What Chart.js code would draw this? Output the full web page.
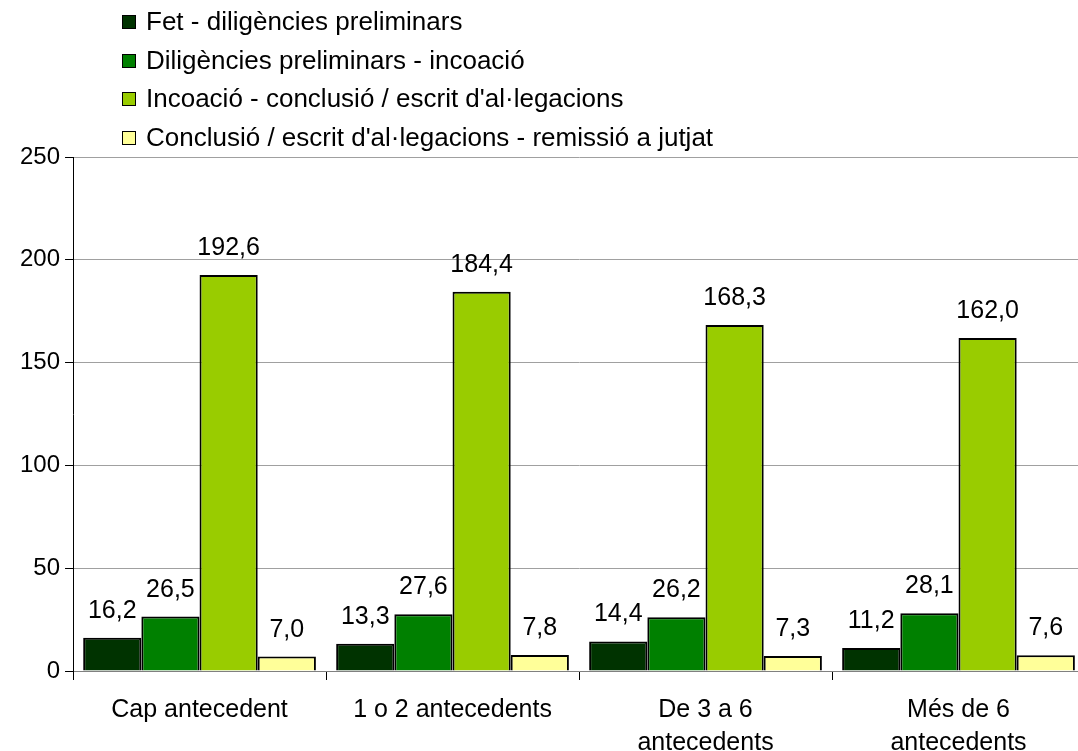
<!DOCTYPE html>
<html>
<head>
<meta charset="utf-8">
<script src="https://cdn.jsdelivr.net/npm/chart.js@4/dist/chart.umd.min.js"></script>
<style>
  html, body { margin: 0; padding: 0; background: #fff; overflow: hidden; }
  #wrap { position: relative; width: 1078px; height: 751px; overflow: hidden; }
  #legend { position: absolute; left: 122px; top: 2px; font: 26px "Liberation Sans", Arial, sans-serif; color: #000; }
  #legend div { height: 38.7px; line-height: 38.7px; white-space: nowrap; }
  #legend span.box { display: inline-block; width: 12px; height: 12px; border: 1px solid #000; margin-right: 10px; vertical-align: 1px; }
</style>
</head>
<body>
<div id="wrap">
  <canvas id="chart" width="1085" height="774"></canvas>
  <div id="legend"></div>
</div>
<script>
const categories = ['Cap antecedent', '1 o 2 antecedents', ['De 3 a 6', 'antecedents'], ['Més de 6', 'antecedents']];
const seriesNames = [
    'Fet - diligències preliminars',
    'Diligències preliminars - incoació',
    "Incoació - conclusió / escrit d'al·legacions",
    "Conclusió / escrit d'al·legacions - remissió a jutjat",
];
const fetDiligencies = [16.2, 13.3, 14.4, 11.2];
const diligenciesIncoacio = [26.5, 27.6, 26.2, 28.1];
const incoacioConclusio = [192.6, 184.4, 168.3, 162.0];
const conclusioRemissio = [7.0, 7.8, 7.3, 7.6];
const yTicks = [0, 50, 100, 150, 200, 250];

const colors = ['#003300', '#008000', '#99CC00', '#FFFF99'];
const seriesData = [fetDiligencies, diligenciesIncoacio, incoacioConclusio, conclusioRemissio];

const FONT = '"Liberation Sans", Arial, sans-serif';

const valueLabels = {
    id: 'valueLabels',
    afterDatasetsDraw(chart) {
        const ctx = chart.ctx;
        ctx.save();
        ctx.font = '25px ' + FONT;
        ctx.fillStyle = '#000';
        ctx.textAlign = 'center';
        ctx.textBaseline = 'alphabetic';
        chart.data.datasets.forEach((ds, i) => {
            chart.getDatasetMeta(i).data.forEach((bar, j) => {
                const txt = ds.data[j].toFixed(1).replace('.', ',');
                ctx.fillText(txt, bar.x, bar.y - 20);
            });
        });
        ctx.restore();
    },
};

const chart = new Chart(document.getElementById('chart'), {
    type: 'bar',
    data: {
        labels: categories,
        datasets: seriesNames.map((name, i) => ({
            label: name,
            data: seriesData[i],
            backgroundColor: colors[i],
            borderColor: '#000',
            borderWidth: 2,
            borderSkipped: 'bottom',
            barPercentage: 1,
            categoryPercentage: 0.92,
        })),
    },
    options: {
        responsive: false,
        animation: false,
        devicePixelRatio: 1,
        layout: { padding: { top: 157, right: 0, left: 15, bottom: 0 } },
        plugins: {
            legend: { display: false },
            tooltip: { enabled: false },
        },
        scales: {
            x: {
                grid: { drawOnChartArea: false, drawTicks: true, tickLength: 9, color: '#000', offset: true },
                border: { color: '#808080', width: 1 },
                ticks: { color: '#000', font: { family: FONT, size: 25, lineHeight: 1.32 }, padding: 14, maxRotation: 0 },
            },
            y: {
                min: 0,
                max: 250,
                afterBuildTicks(axis) { axis.ticks = yTicks.map(v => ({ value: v })); },
                grid: { color: '#a0a0a0', tickLength: 8, tickColor: '#000' },
                border: { color: '#000', width: 1 },
                ticks: { color: '#000', font: { family: FONT, size: 24 }, padding: 5 },
            },
        },
    },
    plugins: [valueLabels],
});

const legendEl = document.getElementById('legend');
chart.data.datasets.forEach(ds => {
    const row = document.createElement('div');
    const box = document.createElement('span');
    box.className = 'box';
    box.style.background = ds.backgroundColor;
    row.appendChild(box);
    row.appendChild(document.createTextNode(ds.label));
    legendEl.appendChild(row);
});
</script>
</body>
</html>
